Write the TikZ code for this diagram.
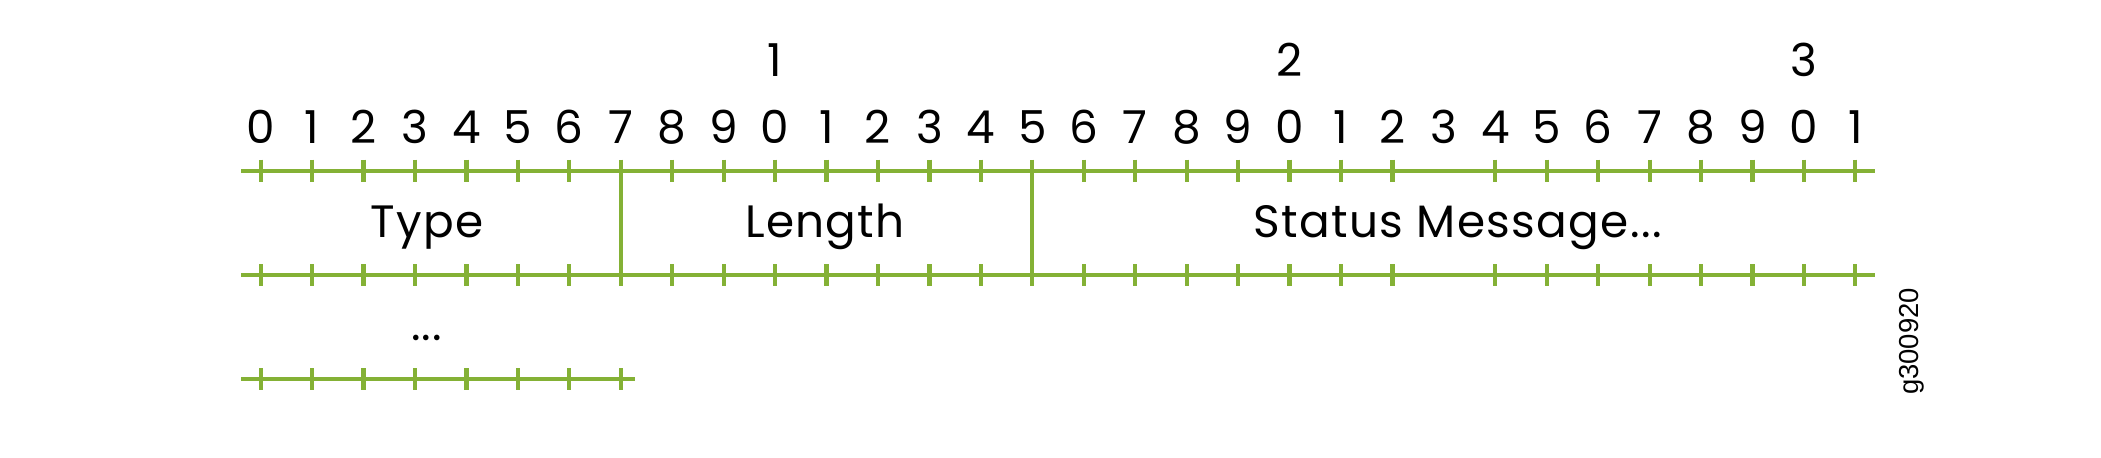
\documentclass[tikz,border=0pt]{standalone}
\usepackage{fontspec}
\setmainfont{Poppins}[LetterSpace=3]
\newfontfamily\idfont{Liberation Sans}
\definecolor{bitgreen}{HTML}{84B135}
\tikzset{
  bitline/.style={draw=bitgreen, line width=1.2pt},
  bittick/.style={draw=bitgreen, line width=1.2pt},
  bitnum/.style={inner sep=0pt, anchor=base, font=\fontsize{12.9}{15}\selectfont},
  fieldname/.style={inner sep=0pt, anchor=base, font=\fontsize{12.9}{15}\selectfont},
}
\begin{document}
\begin{tikzpicture}[x=0.01cm, y=-0.01cm]
	\useasboundingbox (0,0) rectangle (2101,457);
	% row lines
	\coordinate (r1a) at (241,170.7);
	\coordinate (r1b) at (1875,170.7);
	\coordinate (r2a) at (241,275);
	\coordinate (r2b) at (1875,275);
	\coordinate (r3a) at (241,379.3);
	\coordinate (r3b) at (635,379.3);
	\draw [bitline] (r1a) -- (r1b);
	\draw [bitline] (r2a) -- (r2b);
	\draw [bitline] (r3a) -- (r3b);
	% bit numbers and ticks
	\foreach \i [evaluate=\i as \d using {int(mod(\i,10))}] in {0,...,31} {
		\node [bitnum] (n\i) at (260.7+51.44*\i,143.3) {\d};
	}
	\foreach \i in {0,...,22,24,25,...,31} {
		\draw [bittick] (260.7+51.44*\i,159.7) -- (260.7+51.44*\i,181.7);
		\draw [bittick] (260.7+51.44*\i,264) -- (260.7+51.44*\i,286);
	}
	\foreach \i in {0,...,7} {
		\draw [bittick] (260.7+51.44*\i,368.3) -- (260.7+51.44*\i,390.3);
	}
	\node [bitnum] (t1) at (260.7+51.44*10,76.7) {1};
	\node [bitnum] (t2) at (260.7+51.44*20,76.7) {2};
	\node [bitnum] (t3) at (260.7+51.44*30,76.7) {3};
	% field dividers
	\coordinate (d1a) at (260.7+51.44*7,170.7);
	\coordinate (d1b) at (260.7+51.44*7,275);
	\coordinate (d2a) at (260.7+51.44*15,170.7);
	\coordinate (d2b) at (260.7+51.44*15,275);
	\draw [bitline] (d1a) -- (d1b);
	\draw [bitline] (d2a) -- (d2b);
	% field names
	\node [fieldname] (type) at (426.7,237.3) {Type};
	\node [fieldname] (length) at (825,237.3) {Length};
	\node [fieldname] (status) at (1457.5,237.3) {Status Message...};
	\node [fieldname] (more) at (426.7,340.5) {...};
	\node [rotate=90, inner sep=0pt, font=\idfont\fontsize{7.8}{10}\selectfont] (figid) at (1911.7,341.5) {g300920};
\end{tikzpicture}
\end{document}
